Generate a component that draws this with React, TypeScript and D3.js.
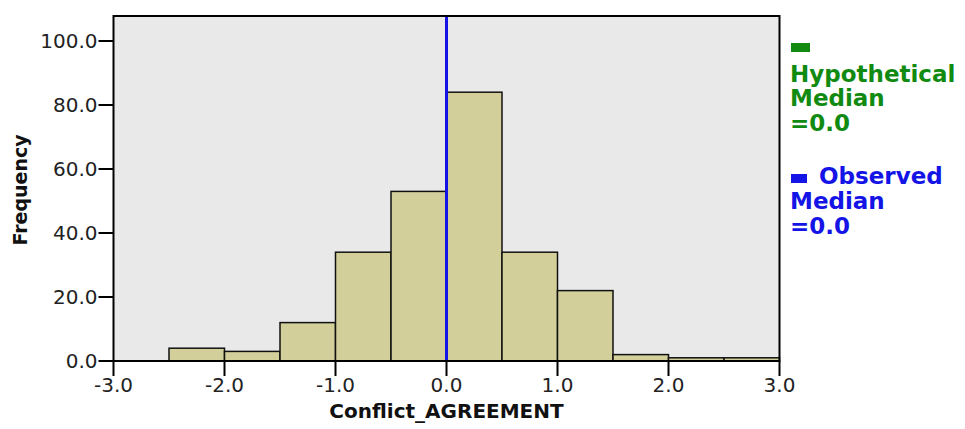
import React from "react";
import * as d3 from "d3";

const binStarts = [-2.5, -2.0, -1.5, -1.0, -0.5, 0.0, 0.5, 1.0, 1.5, 2.0, 2.5];
const binWidth = 0.5;
const frequencies = [4, 3, 12, 34, 53, 84, 34, 22, 2, 1, 1];
const xTicks = [-3, -2, -1, 0, 1, 2, 3];
const yTicks = [0, 20, 40, 60, 80, 100];
const hypotheticalMedian = 0.0;
const observedMedian = 0.0;

const W = 965;
const H = 429;
const left = 113.5;
const right = 779.5;
const bottom = 361;
const top = 16;

export default function App() {
  const x = d3.scaleLinear().domain([-3, 3]).range([left, right]);
  const y = d3.scaleLinear().domain([0, 100]).range([bottom, 41]);
  const font = "'DejaVu Sans', Verdana, sans-serif";
  const bars = binStarts.map((s, i) => ({ x0: s, x1: s + binWidth, v: frequencies[i] }));
  return (
    <svg width={W} height={H} style={{ position: "absolute", left: 0, top: 0, background: "#fff" }}>
      <rect x={left} y={top} width={right - left} height={bottom - top} fill="#e9e9e9" />
      {bars.map((b, i) => (
        <rect
          key={i}
          x={x(b.x0)}
          y={y(b.v)}
          width={x(b.x1) - x(b.x0)}
          height={y(0) - y(b.v)}
          fill="#d3cf9a"
          stroke="#111"
          strokeWidth={1.5}
        />
      ))}
      <line x1={x(hypotheticalMedian)} x2={x(hypotheticalMedian)} y1={top} y2={bottom} stroke="#008000" strokeWidth={3} />
      <line x1={x(observedMedian)} x2={x(observedMedian)} y1={top} y2={bottom} stroke="#1414e6" strokeWidth={3} />
      <rect x={left} y={top} width={right - left} height={bottom - top} fill="none" stroke="#000" strokeWidth={2} />
      {yTicks.map((t) => (
        <g key={t}>
          <line x1={left - 15} x2={left} y1={y(t)} y2={y(t)} stroke="#000" strokeWidth={2} />
          <text x={left - 16} y={y(t) + 7} textAnchor="end" fontFamily={font} fontSize={20} fill="#222">
            {t.toFixed(1)}
          </text>
        </g>
      ))}
      {xTicks.map((t) => (
        <g key={t}>
          <line x1={x(t)} x2={x(t)} y1={bottom} y2={bottom + 15} stroke="#000" strokeWidth={2} />
          <text x={x(t)} y={392} textAnchor="middle" fontFamily={font} fontSize={20} fill="#222">
            {t.toFixed(1)}
          </text>
        </g>
      ))}
      <text x={(left + right) / 2} y={418} textAnchor="middle" fontFamily={font} fontSize={20} fontWeight="bold" fill="#111">
        Conflict_AGREEMENT
      </text>
      <text
        transform={`translate(27,190) rotate(-90)`}
        textAnchor="middle"
        fontFamily={font}
        fontSize={19}
        fontWeight="bold"
        fill="#111"
      >
        Frequency
      </text>
      <rect x={791} y={43} width={19} height={9} fill="#118a11" />
      <g fontFamily={font} fontSize={23} fontWeight="bold" fill="#118a11">
        <text x={790} y={82}>Hypothetical</text>
        <text x={790} y={106}>Median</text>
        <text x={790} y={131}>=0.0</text>
      </g>
      <rect x={791} y={174} width={16} height={9} fill="#1414e6" />
      <g fontFamily={font} fontSize={23} fontWeight="bold" fill="#1414e6">
        <text x={819} y={184}>Observed</text>
        <text x={790} y={209}>Median</text>
        <text x={790} y={234}>=0.0</text>
      </g>
    </svg>
  );
}
